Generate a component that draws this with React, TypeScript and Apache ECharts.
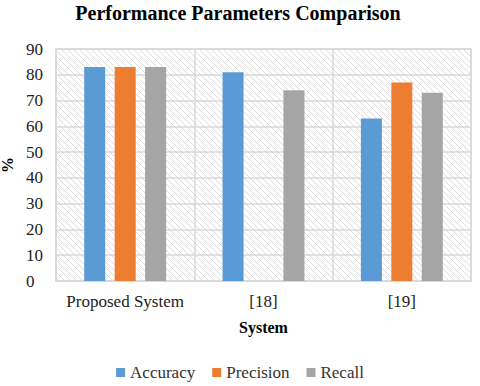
import React, { useEffect, useRef } from "react";
import * as echarts from "echarts";

const categories = ["Proposed System", "[18]", "[19]"];
const accuracy = [83, 81, 63];
const precision = [83, null, 77];
const recall = [83, 74, 73];
const yTicks = { min: 0, max: 90, interval: 10 };

function makePattern(): HTMLCanvasElement {
  const c = document.createElement("canvas");
  c.width = 6;
  c.height = 6;
  const ctx = c.getContext("2d")!;
  ctx.fillStyle = "#ffffff";
  ctx.fillRect(0, 0, 6, 6);
  ctx.strokeStyle = "#dcdcdc";
  ctx.lineWidth = 1;
  ctx.beginPath();
  ctx.moveTo(-1, -1);
  ctx.lineTo(7, 7);
  ctx.moveTo(-4, 2);
  ctx.lineTo(4, 10);
  ctx.moveTo(2, -4);
  ctx.lineTo(10, 4);
  ctx.stroke();
  return c;
}

export default function App() {
  const ref = useRef<HTMLDivElement>(null);
  useEffect(() => {
    if (!ref.current) return;
    const chart = echarts.init(ref.current, null, { renderer: "svg" });
    const font = "Liberation Serif";
    chart.setOption({
      animation: false,
      textStyle: { fontFamily: font },
      title: {
        text: "Performance Parameters Comparison",
        left: 233,
        textAlign: "center",
        top: -2,
        textStyle: { fontFamily: font, fontWeight: "bold", fontSize: 20, color: "#000" },
      },
      grid: {
        left: 56,
        right: 9,
        top: 49,
        bottom: 105,
        outerBoundsMode: "none",
        containLabel: false,
        show: true,
        backgroundColor: { image: makePattern(), repeat: "repeat" } as any,
        borderColor: "#d9d9d9",
        borderWidth: 1.5,
      },
      legend: {
        bottom: 0,
        left: "center",
        itemWidth: 9,
        itemHeight: 9,
        itemGap: 17,
        icon: "rect",
        textStyle: { fontFamily: font, fontSize: 17, color: "#333" },
        data: ["Accuracy", "Precision", "Recall"],
      },
      xAxis: {
        type: "category",
        data: categories,
        name: "System",
        nameLocation: "middle",
        nameGap: 38,
        nameTextStyle: { fontFamily: font, fontWeight: "bold", fontSize: 16, color: "#000" },
        axisLine: { show: true, lineStyle: { color: "#d9d9d9", width: 1.5 } },
        axisTick: { show: false },
        axisLabel: { interval: 0, fontFamily: font, fontSize: 17, color: "#222", margin: 12 },
        splitLine: { show: true, interval: 0, lineStyle: { color: "#d9d9d9", width: 1.5 } },
      },
      yAxis: {
        type: "value",
        min: yTicks.min,
        max: yTicks.max,
        interval: yTicks.interval,
        name: "%",
        nameLocation: "middle",
        nameGap: 39,
        nameRotate: 90,
        nameTextStyle: { fontFamily: font, fontWeight: "bold", fontSize: 16, color: "#000" },
        axisLine: { show: false },
        axisTick: { show: false },
        axisLabel: { fontFamily: font, fontSize: 17, color: "#222", margin: 30, align: "left" },
        splitLine: { show: true, lineStyle: { color: "#d9d9d9", width: 1.5 } },
      },
      series: [
        { name: "Accuracy", type: "bar", data: accuracy, barWidth: 21, barGap: "45%", itemStyle: { color: "#5B9BD5" } },
        { name: "Precision", type: "bar", data: precision, barWidth: 21, barGap: "45%", itemStyle: { color: "#ED7D31" } },
        { name: "Recall", type: "bar", data: recall, barWidth: 21, barGap: "45%", itemStyle: { color: "#A5A5A5" } },
      ],
    });
    return () => chart.dispose();
  }, []);
  return <div ref={ref} style={{ width: 480, height: 386, position: "absolute", left: 0, top: 0 }} />;
}
